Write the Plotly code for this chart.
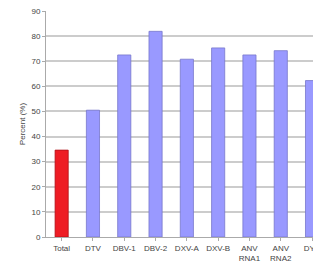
import plotly.graph_objects as go

categories = ["Total", "DTV", "DBV-1", "DBV-2", "DXV-A", "DXV-B", "ANV<br>RNA1", "ANV<br>RNA2", "DYV"]
values = [34.6, 50.5, 72.5, 81.9, 70.8, 75.3, 72.5, 74.2, 62.3]
colors = ["#ee1c24"] + ["#9999ff"] * 8
outline = ["#b01018"] + ["#7777cc"] * 8

x_idx = list(range(len(categories)))

fig = go.Figure(go.Bar(
    x=x_idx, y=values, width=0.42,
    marker=dict(color=colors, line=dict(color=outline, width=0.8)),
))

fig.update_layout(
    width=313, height=268,
    margin=dict(l=46, r=0, t=11, b=31, autoexpand=False),
    paper_bgcolor="white", plot_bgcolor="white",
    showlegend=False,
    font=dict(family="Liberation Sans, Arial, sans-serif", size=8, color="#444"),
)
fig.update_xaxes(
    range=[-0.5, 8.03], tickmode="array", tickvals=x_idx, ticktext=categories,
    showgrid=False, showline=True, linecolor="#aaaaaa", linewidth=1,
    ticks="outside", ticklen=3, tickcolor="#aaaaaa", tickson="boundaries",
    tickfont=dict(size=8, color="#444"), zeroline=False, automargin=False,
    ticklabeloverflow="allow",
)
fig.update_yaxes(
    range=[0, 90], dtick=10, showgrid=True, gridcolor="#cccccc", gridwidth=2,
    showline=True, linecolor="#aaaaaa", linewidth=1, ticks="outside", ticklen=3,
    tickcolor="#aaaaaa", tickfont=dict(size=8, color="#444"), zeroline=False,
    automargin=False, ticklabeloverflow="allow",
    title=dict(text="Percent (%)", font=dict(size=8, color="#444"), standoff=4),
)
fig.write_html(
    "out.html",
    config={"displayModeBar": False},
    post_script="document.body.style.margin='0';document.body.style.overflow='hidden';",
)
